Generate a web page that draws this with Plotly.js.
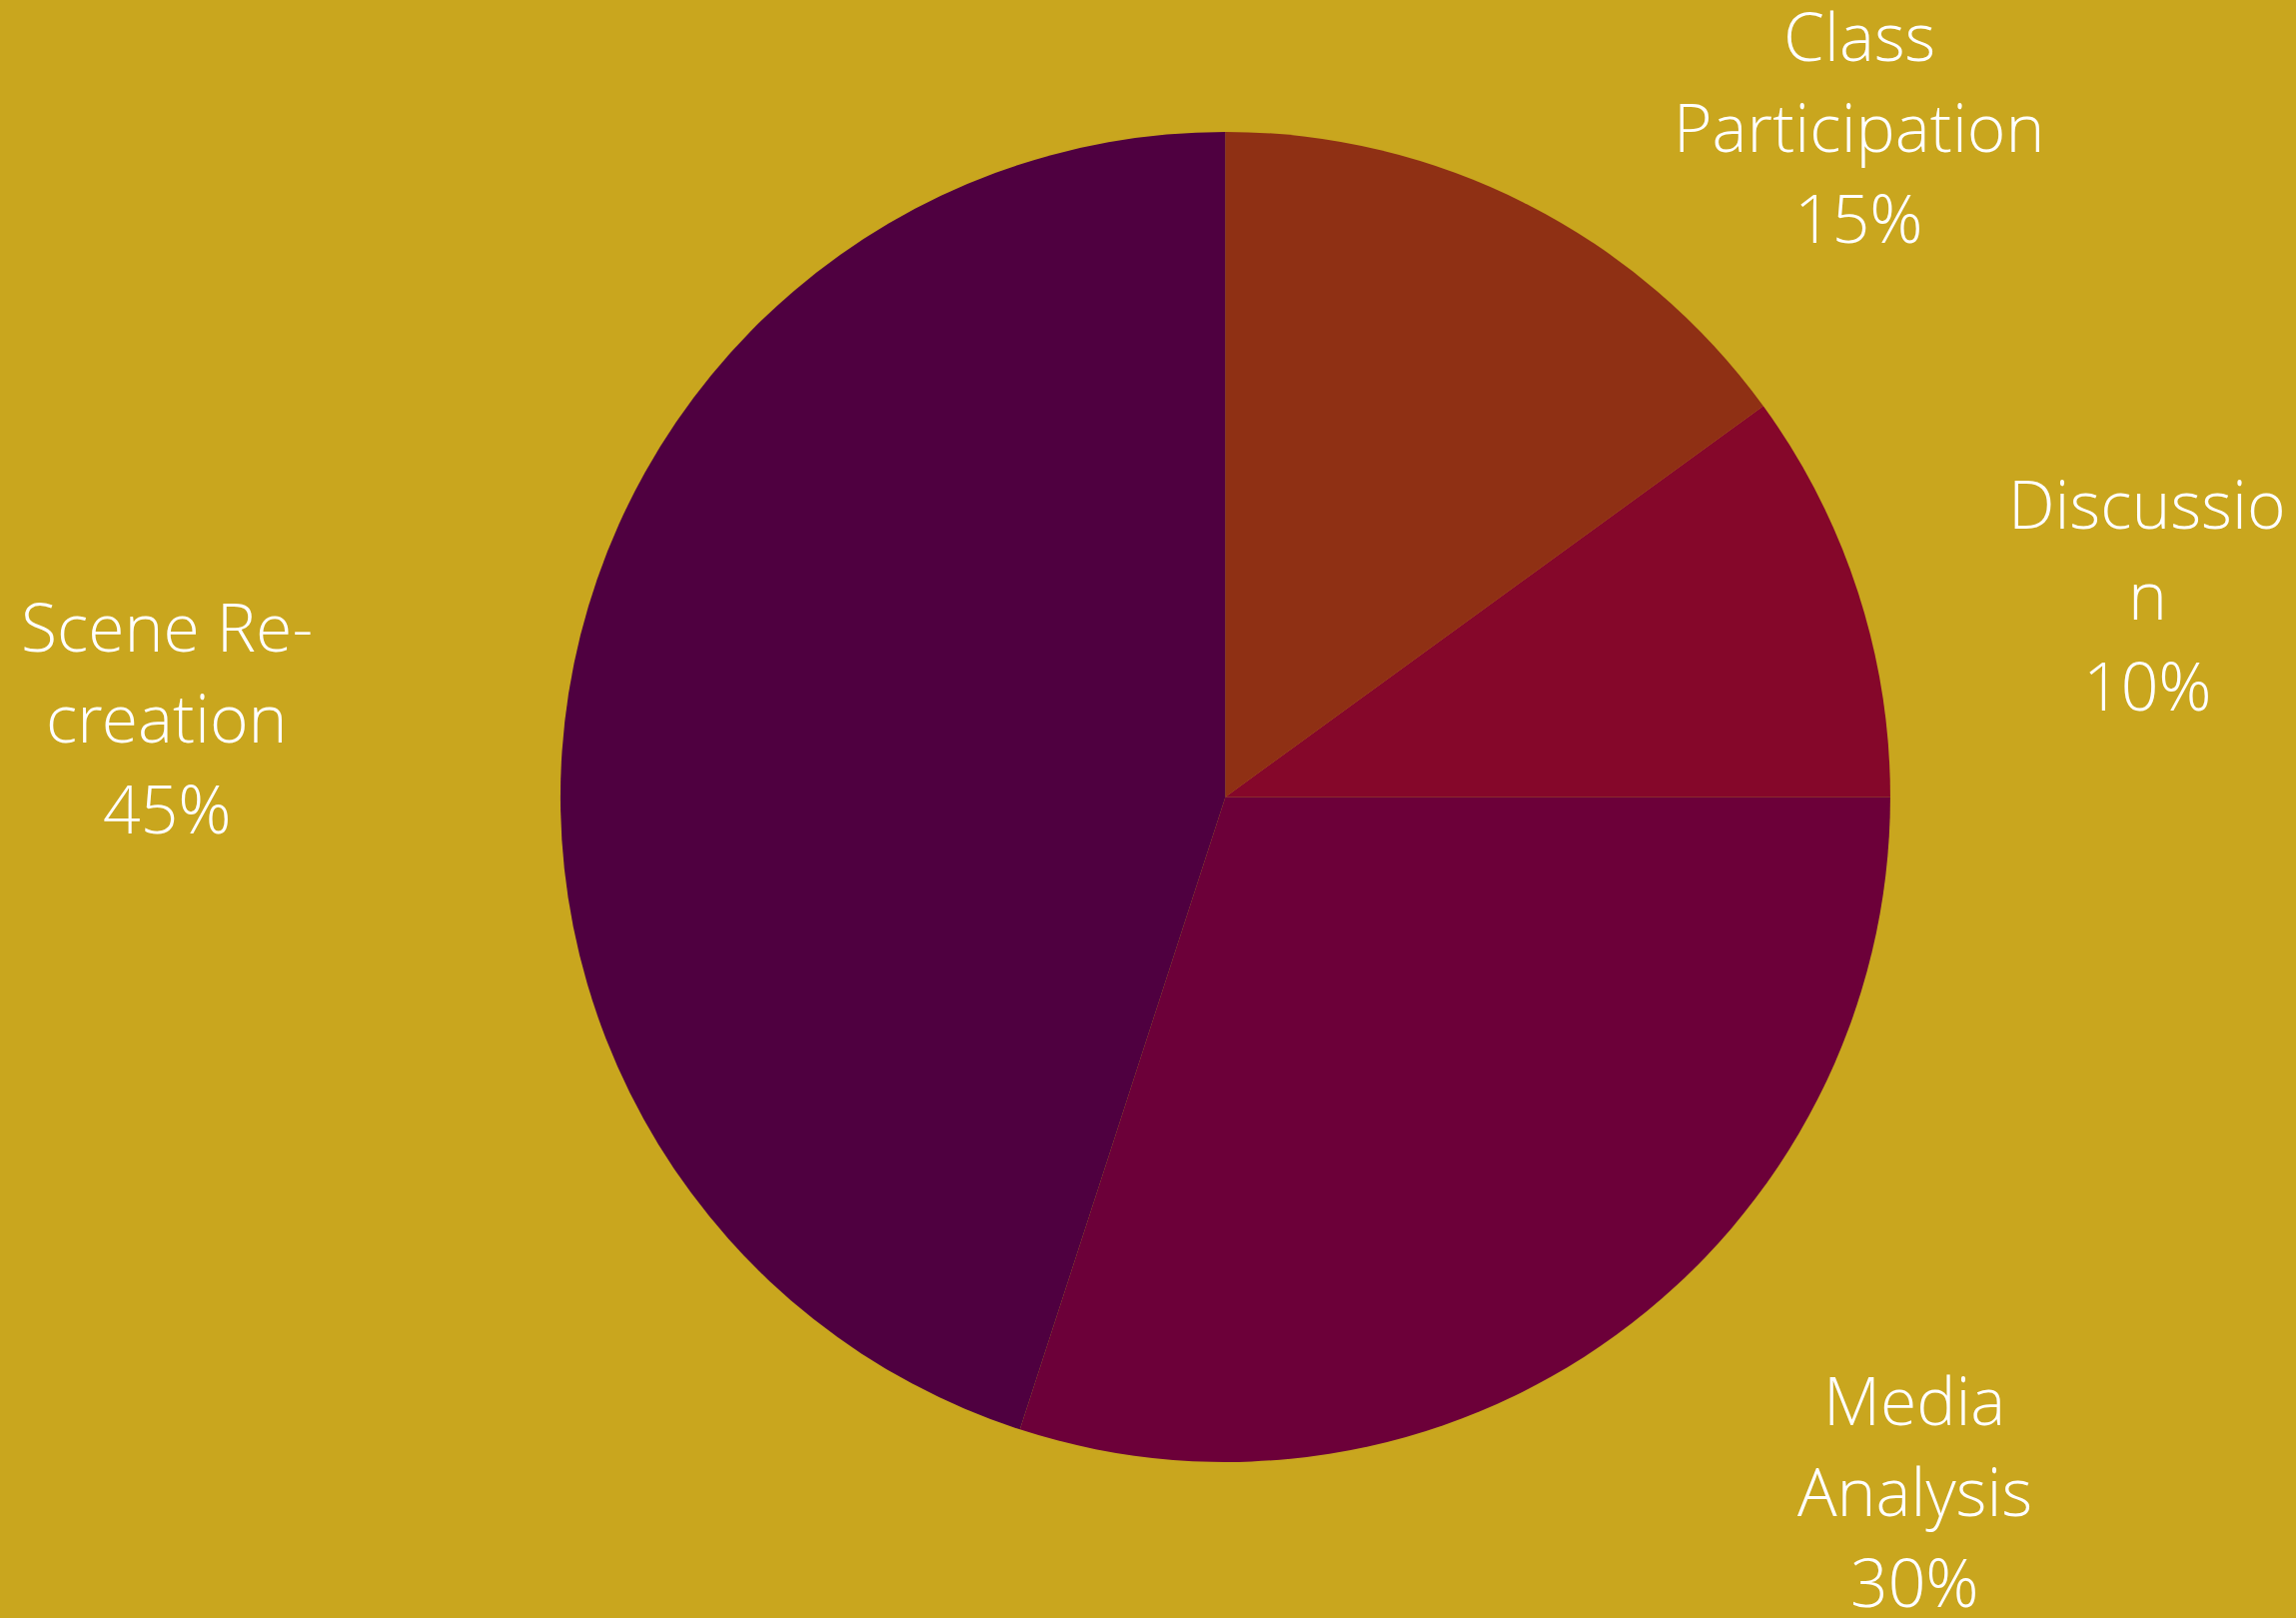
<!DOCTYPE html>
<html>
<head>
<meta charset="utf-8">
<script src="https://cdn.plot.ly/plotly-3.0.1.min.js"></script>
<style>html,body{margin:0;padding:0;background:#C9A61E;}#chart{width:2298px;height:1619px;}</style>
</head>
<body>
<div id="chart"></div>
<script>
const categories = ['Class Participation', 'Discussion', 'Media Analysis', 'Scene Re-creation'];
const labelLines = [['Class', 'Participation'], ['Discussio', 'n'], ['Media', 'Analysis'], ['Scene Re-', 'creation']];
const values = [15, 10, 30, 45];
const colors = ['#8F3014', '#85072A', '#6C0039', '#4F0040'];

const total = values.reduce((a, b) => a + b, 0);
// centre of the middle text line for each label, in paper coordinates
const labelPos = [[0.8098, 0.9222], [0.9352, 0.6330], [0.8338, 0.0788], [0.0727, 0.5570]];
const lineStep = 91 / 1619;

const annotations = [];
categories.forEach((c, i) => {
  const lines = labelLines[i].concat([Math.round(values[i] / total * 100) + '%']);
  lines.forEach((t, k) => {
    annotations.push({
      xref: 'paper', yref: 'paper',
      x: labelPos[i][0], y: labelPos[i][1] + (1 - k) * lineStep,
      xanchor: 'center', yanchor: 'middle',
      showarrow: false,
      text: t,
      font: {family: 'Open Sans Light, Open Sans', size: 66, color: '#FFFFFF', weight: 300}
    });
  });
});

const data = [{
  type: 'pie',
  labels: categories,
  values: values,
  sort: false,
  direction: 'clockwise',
  rotation: 0,
  textinfo: 'none',
  hoverinfo: 'label+percent',
  marker: {colors: colors, line: {width: 0}},
  domain: {x: [0.2441, 0.8233], y: [0.0964, 0.9185]},
  showlegend: false
}];

const layout = {
  width: 2298, height: 1619,
  margin: {l: 0, r: 0, t: 0, b: 0},
  paper_bgcolor: '#C9A61E',
  plot_bgcolor: '#C9A61E',
  showlegend: false,
  annotations: annotations
};

Plotly.newPlot('chart', data, layout, {displayModeBar: false});
</script>
</body>
</html>
